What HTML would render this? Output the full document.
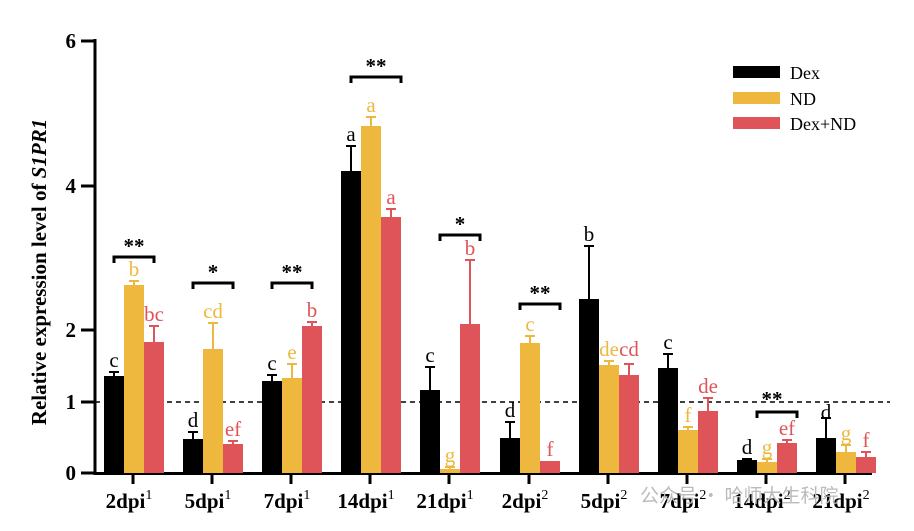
<!DOCTYPE html><html><head><meta charset="utf-8"><style>body{margin:0;background:#fff}svg{display:block}text{font-family:"Liberation Serif",serif}</style></head><body>
<svg width="914" height="531" viewBox="0 0 914 531" xmlns="http://www.w3.org/2000/svg">
<line x1="95" y1="402" x2="890" y2="402" stroke="#000" stroke-width="1.5" stroke-dasharray="5,4"/>
<line x1="95" y1="39" x2="95" y2="475" stroke="#000" stroke-width="3"/>
<line x1="94" y1="473.5" x2="872" y2="473.5" stroke="#000" stroke-width="3"/>
<g stroke="#000" stroke-width="3">
<line x1="81" y1="41" x2="95" y2="41"/><line x1="81" y1="186" x2="95" y2="186"/><line x1="81" y1="330" x2="95" y2="330"/><line x1="81" y1="402" x2="95" y2="402"/><line x1="81" y1="473" x2="95" y2="473"/>
</g>
<g font-size="21" font-weight="bold" text-anchor="end">
<text x="76" y="48">6</text><text x="76" y="193">4</text><text x="76" y="337">2</text><text x="76" y="409">1</text><text x="76" y="480">0</text>
</g>
<text transform="translate(46,272) rotate(-90)" font-size="21" font-weight="bold" text-anchor="middle">Relative expression level of <tspan font-style="italic">S1PR1</tspan></text>
<g font-size="18">
<rect x="733" y="66" width="47" height="12" fill="#000"/><text x="790" y="79">Dex</text>
<rect x="733" y="92" width="47" height="12" fill="#EDB83D"/><text x="790" y="105">ND</text>
<rect x="733" y="117" width="47" height="12" fill="#DE5459"/><text x="790" y="130">Dex+ND</text>
</g>

<g font-size="21" text-anchor="middle" stroke-width="2">
<g transform="translate(133,0)">
<rect x="-29" y="376" width="20" height="97" fill="#000"/><path d="M-19 376V372M-24 372H-14" stroke="#000"/><text x="-19" y="367" fill="#000">c</text>
<rect x="-9" y="285" width="20" height="188" fill="#EDB83D"/><path d="M1 285V281M-4 281H6" stroke="#EDB83D"/><text x="1" y="276" fill="#EDB83D">b</text>
<rect x="11" y="342" width="20" height="131" fill="#DE5459"/><path d="M21 342V326M16 326H26" stroke="#DE5459"/><text x="21" y="321" fill="#DE5459">bc</text>
<path d="M-19 263V257H21V263" fill="none" stroke="#000" stroke-width="3"/><text x="1" y="253" font-weight="bold">**</text>
<line x1="0" y1="473" x2="0" y2="484" stroke="#000" stroke-width="3"/><text x="-4" y="508" font-size="21" font-weight="bold">2dpi<tspan dy="-9" font-size="14" font-weight="normal">1</tspan></text>
</g>
<g transform="translate(212,0)">
<rect x="-29" y="439" width="20" height="34" fill="#000"/><path d="M-19 439V432M-24 432H-14" stroke="#000"/><text x="-19" y="427" fill="#000">d</text>
<rect x="-9" y="349" width="20" height="124" fill="#EDB83D"/><path d="M1 349V323M-4 323H6" stroke="#EDB83D"/><text x="1" y="318" fill="#EDB83D">cd</text>
<rect x="11" y="444" width="20" height="29" fill="#DE5459"/><path d="M21 444V441M16 441H26" stroke="#DE5459"/><text x="21" y="436" fill="#DE5459">ef</text>
<path d="M-19 289V283H21V289" fill="none" stroke="#000" stroke-width="3"/><text x="1" y="279" font-weight="bold">*</text>
<line x1="0" y1="473" x2="0" y2="484" stroke="#000" stroke-width="3"/><text x="-4" y="508" font-size="21" font-weight="bold">5dpi<tspan dy="-9" font-size="14" font-weight="normal">1</tspan></text>
</g>
<g transform="translate(291,0)">
<rect x="-29" y="381" width="20" height="92" fill="#000"/><path d="M-19 381V375M-24 375H-14" stroke="#000"/><text x="-19" y="370" fill="#000">c</text>
<rect x="-9" y="378" width="20" height="95" fill="#EDB83D"/><path d="M1 378V364M-4 364H6" stroke="#EDB83D"/><text x="1" y="359" fill="#EDB83D">e</text>
<rect x="11" y="326" width="20" height="147" fill="#DE5459"/><path d="M21 326V322M16 322H26" stroke="#DE5459"/><text x="21" y="317" fill="#DE5459">b</text>
<path d="M-19 289V283H21V289" fill="none" stroke="#000" stroke-width="3"/><text x="1" y="279" font-weight="bold">**</text>
<line x1="0" y1="473" x2="0" y2="484" stroke="#000" stroke-width="3"/><text x="-4" y="508" font-size="21" font-weight="bold">7dpi<tspan dy="-9" font-size="14" font-weight="normal">1</tspan></text>
</g>
<g transform="translate(370,0)">
<rect x="-29" y="171" width="20" height="302" fill="#000"/><path d="M-19 171V146M-24 146H-14" stroke="#000"/><text x="-19" y="141" fill="#000">a</text>
<rect x="-9" y="126" width="20" height="347" fill="#EDB83D"/><path d="M1 126V117M-4 117H6" stroke="#EDB83D"/><text x="1" y="112" fill="#EDB83D">a</text>
<rect x="11" y="217" width="20" height="256" fill="#DE5459"/><path d="M21 217V209M16 209H26" stroke="#DE5459"/><text x="21" y="204" fill="#DE5459">a</text>
<path d="M-19 83V77H31V83" fill="none" stroke="#000" stroke-width="3"/><text x="6" y="73" font-weight="bold">**</text>
<line x1="0" y1="473" x2="0" y2="484" stroke="#000" stroke-width="3"/><text x="-4" y="508" font-size="21" font-weight="bold">14dpi<tspan dy="-9" font-size="14" font-weight="normal">1</tspan></text>
</g>
<g transform="translate(449,0)">
<rect x="-29" y="390" width="20" height="83" fill="#000"/><path d="M-19 390V367M-24 367H-14" stroke="#000"/><text x="-19" y="362" fill="#000">c</text>
<rect x="-9" y="469" width="20" height="4" fill="#EDB83D"/><path d="M1 469V467M-4 467H6" stroke="#EDB83D"/><text x="1" y="462" fill="#EDB83D">g</text>
<rect x="11" y="324" width="20" height="149" fill="#DE5459"/><path d="M21 324V260M16 260H26" stroke="#DE5459"/><text x="21" y="255" fill="#DE5459">b</text>
<path d="M-9 241V235H31V241" fill="none" stroke="#000" stroke-width="3"/><text x="11" y="231" font-weight="bold">*</text>
<line x1="0" y1="473" x2="0" y2="484" stroke="#000" stroke-width="3"/><text x="-4" y="508" font-size="21" font-weight="bold">21dpi<tspan dy="-9" font-size="14" font-weight="normal">1</tspan></text>
</g>
<g transform="translate(529,0)">
<rect x="-29" y="438" width="20" height="35" fill="#000"/><path d="M-19 438V422M-24 422H-14" stroke="#000"/><text x="-19" y="417" fill="#000">d</text>
<rect x="-9" y="343" width="20" height="130" fill="#EDB83D"/><path d="M1 343V336M-4 336H6" stroke="#EDB83D"/><text x="1" y="331" fill="#EDB83D">c</text>
<rect x="11" y="461" width="20" height="12" fill="#DE5459"/><text x="21" y="456" fill="#DE5459">f</text>
<path d="M-9 310V304H31V310" fill="none" stroke="#000" stroke-width="3"/><text x="11" y="300" font-weight="bold">**</text>
<line x1="0" y1="473" x2="0" y2="484" stroke="#000" stroke-width="3"/><text x="-4" y="508" font-size="21" font-weight="bold">2dpi<tspan dy="-9" font-size="14" font-weight="normal">2</tspan></text>
</g>
<g transform="translate(608,0)">
<rect x="-29" y="299" width="20" height="174" fill="#000"/><path d="M-19 299V246M-24 246H-14" stroke="#000"/><text x="-19" y="241" fill="#000">b</text>
<rect x="-9" y="365" width="20" height="108" fill="#EDB83D"/><path d="M1 365V361M-4 361H6" stroke="#EDB83D"/><text x="1" y="356" fill="#EDB83D">de</text>
<rect x="11" y="375" width="20" height="98" fill="#DE5459"/><path d="M21 375V364M16 364H26" stroke="#DE5459"/><text x="21" y="356" fill="#DE5459">cd</text>
<line x1="0" y1="473" x2="0" y2="484" stroke="#000" stroke-width="3"/><text x="-4" y="508" font-size="21" font-weight="bold">5dpi<tspan dy="-9" font-size="14" font-weight="normal">2</tspan></text>
</g>
<g transform="translate(687,0)">
<rect x="-29" y="368" width="20" height="105" fill="#000"/><path d="M-19 368V354M-24 354H-14" stroke="#000"/><text x="-19" y="349" fill="#000">c</text>
<rect x="-9" y="430" width="20" height="43" fill="#EDB83D"/><path d="M1 430V427M-4 427H6" stroke="#EDB83D"/><text x="1" y="422" fill="#EDB83D">f</text>
<rect x="11" y="411" width="20" height="62" fill="#DE5459"/><path d="M21 411V398M16 398H26" stroke="#DE5459"/><text x="21" y="393" fill="#DE5459">de</text>
<line x1="0" y1="473" x2="0" y2="484" stroke="#000" stroke-width="3"/><text x="-4" y="508" font-size="21" font-weight="bold">7dpi<tspan dy="-9" font-size="14" font-weight="normal">2</tspan></text>
</g>
<g transform="translate(766,0)">
<rect x="-29" y="460" width="20" height="13" fill="#000"/><path d="M-19 460V459M-24 459H-14" stroke="#000"/><text x="-19" y="454" fill="#000">d</text>
<rect x="-9" y="462" width="20" height="11" fill="#EDB83D"/><path d="M1 462V459M-4 459H6" stroke="#EDB83D"/><text x="1" y="454" fill="#EDB83D">g</text>
<rect x="11" y="443" width="20" height="30" fill="#DE5459"/><path d="M21 443V440M16 440H26" stroke="#DE5459"/><text x="21" y="435" fill="#DE5459">ef</text>
<path d="M-9 418V412H31V418" fill="none" stroke="#000" stroke-width="3"/><text x="6" y="406" font-weight="bold">**</text>
<line x1="0" y1="473" x2="0" y2="484" stroke="#000" stroke-width="3"/><text x="-4" y="508" font-size="21" font-weight="bold">14dpi<tspan dy="-9" font-size="14" font-weight="normal">2</tspan></text>
</g>
<g transform="translate(845,0)">
<rect x="-29" y="438" width="20" height="35" fill="#000"/><path d="M-19 438V418M-24 418H-14" stroke="#000"/><text x="-19" y="419" fill="#000">d</text>
<rect x="-9" y="452" width="20" height="21" fill="#EDB83D"/><path d="M1 452V445M-4 445H6" stroke="#EDB83D"/><text x="1" y="440" fill="#EDB83D">g</text>
<rect x="11" y="457" width="20" height="16" fill="#DE5459"/><path d="M21 457V452M16 452H26" stroke="#DE5459"/><text x="21" y="447" fill="#DE5459">f</text>
<line x1="0" y1="473" x2="0" y2="484" stroke="#000" stroke-width="3"/><text x="-4" y="508" font-size="21" font-weight="bold">21dpi<tspan dy="-9" font-size="14" font-weight="normal">2</tspan></text>
</g>
</g>
<text x="640" y="502" font-size="19" fill="#bbb" style="font-family:'Noto Sans CJK SC',sans-serif">公众号 · 哈师大生科院</text>
</svg></body></html>
